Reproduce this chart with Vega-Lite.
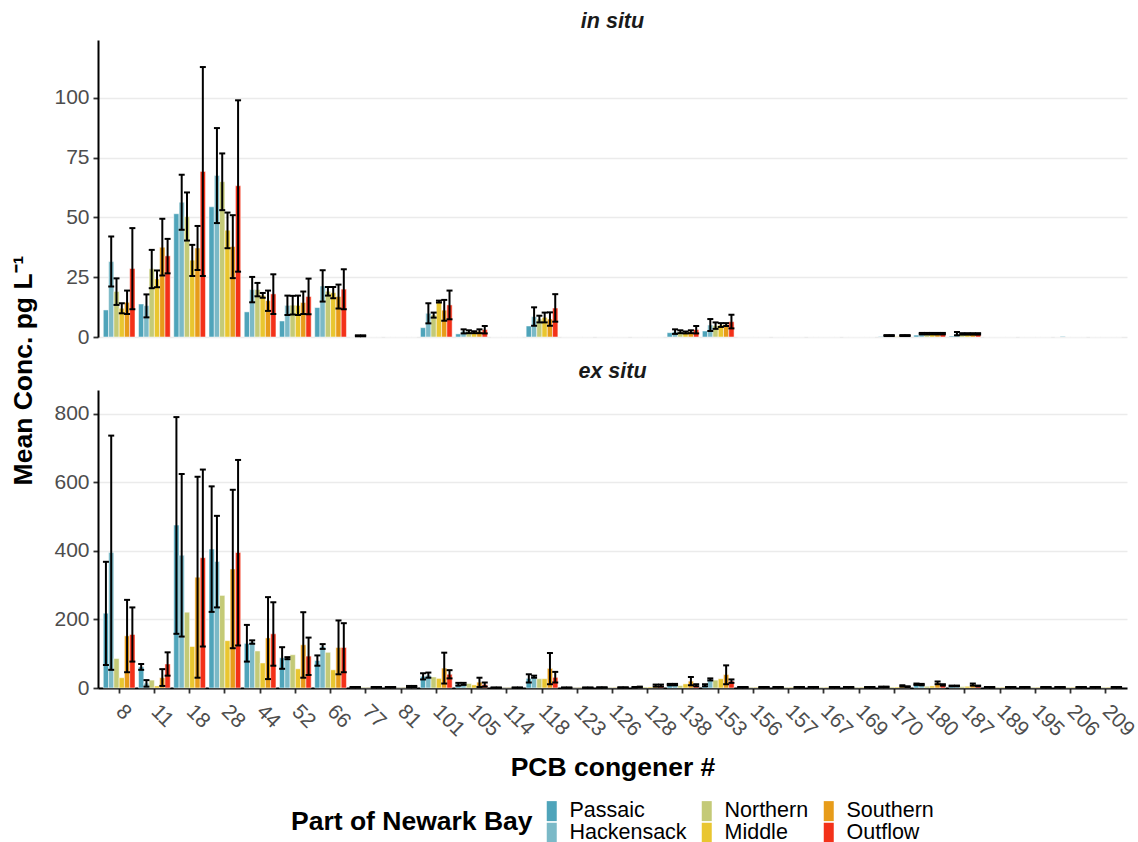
{
  "$schema": "https://vega.github.io/schema/vega-lite/v6.json",
  "padding": {"left": 10, "top": 10, "right": 10, "bottom": 0},
  "background": "white",
  "datasets": {
    "pcb": [
      {"panel":"in situ","cong":"8","region":"Passaic","mean":11.3},
      {"panel":"in situ","cong":"8","region":"Hackensack","mean":31.5,"lo":21.1,"hi":42.0},
      {"panel":"in situ","cong":"8","region":"Northern","mean":19.0,"lo":13.4,"hi":24.5},
      {"panel":"in situ","cong":"8","region":"Middle","mean":12.0,"lo":9.9,"hi":14.1},
      {"panel":"in situ","cong":"8","region":"Southern","mean":14.5,"lo":9.6,"hi":19.4},
      {"panel":"in situ","cong":"8","region":"Outflow","mean":28.6,"lo":11.6,"hi":45.5},
      {"panel":"in situ","cong":"11","region":"Passaic","mean":13.8},
      {"panel":"in situ","cong":"11","region":"Hackensack","mean":13.1,"lo":8.2,"hi":17.8},
      {"panel":"in situ","cong":"11","region":"Northern","mean":28.5,"lo":20.4,"hi":36.4},
      {"panel":"in situ","cong":"11","region":"Middle","mean":24.3,"lo":20.8,"hi":27.8},
      {"panel":"in situ","cong":"11","region":"Southern","mean":37.5,"lo":25.7,"hi":49.4},
      {"panel":"in situ","cong":"11","region":"Outflow","mean":33.9,"lo":26.6,"hi":41.0},
      {"panel":"in situ","cong":"18","region":"Passaic","mean":51.5},
      {"panel":"in situ","cong":"18","region":"Hackensack","mean":56.3,"lo":44.8,"hi":67.8},
      {"panel":"in situ","cong":"18","region":"Northern","mean":50.3,"lo":40.3,"hi":60.4},
      {"panel":"in situ","cong":"18","region":"Middle","mean":32.1,"lo":25.5,"hi":38.5},
      {"panel":"in situ","cong":"18","region":"Southern","mean":37.2,"lo":28.0,"hi":46.4},
      {"panel":"in situ","cong":"18","region":"Outflow","mean":69.2,"lo":25.5,"hi":112.8},
      {"panel":"in situ","cong":"28","region":"Passaic","mean":54.4},
      {"panel":"in situ","cong":"28","region":"Hackensack","mean":67.5,"lo":47.6,"hi":87.3},
      {"panel":"in situ","cong":"28","region":"Northern","mean":64.9,"lo":53.0,"hi":76.7},
      {"panel":"in situ","cong":"28","region":"Middle","mean":44.6,"lo":37.1,"hi":52.0},
      {"panel":"in situ","cong":"28","region":"Southern","mean":37.8,"lo":24.6,"hi":50.9},
      {"panel":"in situ","cong":"28","region":"Outflow","mean":63.2,"lo":27.3,"hi":98.9},
      {"panel":"in situ","cong":"44","region":"Passaic","mean":10.5},
      {"panel":"in situ","cong":"44","region":"Hackensack","mean":19.8,"lo":14.5,"hi":25.1},
      {"panel":"in situ","cong":"44","region":"Northern","mean":19.8,"lo":17.0,"hi":22.6},
      {"panel":"in situ","cong":"44","region":"Middle","mean":17.4,"lo":16.4,"hi":18.4},
      {"panel":"in situ","cong":"44","region":"Southern","mean":15.2,"lo":10.9,"hi":19.4},
      {"panel":"in situ","cong":"44","region":"Outflow","mean":18.0,"lo":9.6,"hi":26.2},
      {"panel":"in situ","cong":"52","region":"Passaic","mean":6.7},
      {"panel":"in situ","cong":"52","region":"Hackensack","mean":13.2,"lo":9.2,"hi":17.3},
      {"panel":"in situ","cong":"52","region":"Northern","mean":13.3,"lo":9.4,"hi":17.2},
      {"panel":"in situ","cong":"52","region":"Middle","mean":13.2,"lo":9.2,"hi":17.3},
      {"panel":"in situ","cong":"52","region":"Southern","mean":14.4,"lo":9.6,"hi":19.0},
      {"panel":"in situ","cong":"52","region":"Outflow","mean":16.9,"lo":9.5,"hi":24.4},
      {"panel":"in situ","cong":"66","region":"Passaic","mean":12.3},
      {"panel":"in situ","cong":"66","region":"Hackensack","mean":21.3,"lo":14.8,"hi":27.9},
      {"panel":"in situ","cong":"66","region":"Northern","mean":19.1,"lo":17.3,"hi":20.9},
      {"panel":"in situ","cong":"66","region":"Middle","mean":18.5,"lo":16.2,"hi":20.9},
      {"panel":"in situ","cong":"66","region":"Southern","mean":16.9,"lo":11.9,"hi":21.9},
      {"panel":"in situ","cong":"66","region":"Outflow","mean":20.0,"lo":11.6,"hi":28.3},
      {"panel":"in situ","cong":"77","region":"Passaic","mean":0},
      {"panel":"in situ","cong":"77","region":"Hackensack","mean":0.5,"lo":0.3,"hi":0.7},
      {"panel":"in situ","cong":"77","region":"Northern","mean":0.5,"lo":0.3,"hi":0.7},
      {"panel":"in situ","cong":"77","region":"Middle","mean":0},
      {"panel":"in situ","cong":"77","region":"Southern","mean":0},
      {"panel":"in situ","cong":"77","region":"Outflow","mean":0},
      {"panel":"in situ","cong":"81","region":"Passaic","mean":0},
      {"panel":"in situ","cong":"81","region":"Hackensack","mean":0},
      {"panel":"in situ","cong":"81","region":"Northern","mean":0},
      {"panel":"in situ","cong":"81","region":"Middle","mean":0},
      {"panel":"in situ","cong":"81","region":"Southern","mean":0},
      {"panel":"in situ","cong":"81","region":"Outflow","mean":0},
      {"panel":"in situ","cong":"101","region":"Passaic","mean":3.9},
      {"panel":"in situ","cong":"101","region":"Hackensack","mean":9.9,"lo":5.7,"hi":14.1},
      {"panel":"in situ","cong":"101","region":"Northern","mean":9.2,"lo":8.1,"hi":10.2},
      {"panel":"in situ","cong":"101","region":"Middle","mean":14.8,"lo":14.4,"hi":15.2},
      {"panel":"in situ","cong":"101","region":"Southern","mean":11.2,"lo":6.8,"hi":15.5},
      {"panel":"in situ","cong":"101","region":"Outflow","mean":13.4,"lo":7.4,"hi":19.4},
      {"panel":"in situ","cong":"105","region":"Passaic","mean":1.3},
      {"panel":"in situ","cong":"105","region":"Hackensack","mean":2.4,"lo":1.5,"hi":3.2},
      {"panel":"in situ","cong":"105","region":"Northern","mean":2.2,"lo":1.6,"hi":2.8},
      {"panel":"in situ","cong":"105","region":"Middle","mean":2.0,"lo":1.6,"hi":2.4},
      {"panel":"in situ","cong":"105","region":"Southern","mean":2.4,"lo":1.6,"hi":3.2},
      {"panel":"in situ","cong":"105","region":"Outflow","mean":3.1,"lo":1.5,"hi":4.6},
      {"panel":"in situ","cong":"114","region":"Passaic","mean":0},
      {"panel":"in situ","cong":"114","region":"Hackensack","mean":0},
      {"panel":"in situ","cong":"114","region":"Northern","mean":0},
      {"panel":"in situ","cong":"114","region":"Middle","mean":0},
      {"panel":"in situ","cong":"114","region":"Southern","mean":0},
      {"panel":"in situ","cong":"114","region":"Outflow","mean":0},
      {"panel":"in situ","cong":"118","region":"Passaic","mean":4.6},
      {"panel":"in situ","cong":"118","region":"Hackensack","mean":8.5,"lo":4.7,"hi":12.4},
      {"panel":"in situ","cong":"118","region":"Northern","mean":7.5,"lo":6.1,"hi":8.9},
      {"panel":"in situ","cong":"118","region":"Middle","mean":8.2,"lo":6.1,"hi":10.2},
      {"panel":"in situ","cong":"118","region":"Southern","mean":7.5,"lo":4.7,"hi":10.3},
      {"panel":"in situ","cong":"118","region":"Outflow","mean":12.1,"lo":6.4,"hi":17.9},
      {"panel":"in situ","cong":"123","region":"Passaic","mean":0},
      {"panel":"in situ","cong":"123","region":"Hackensack","mean":0},
      {"panel":"in situ","cong":"123","region":"Northern","mean":0},
      {"panel":"in situ","cong":"123","region":"Middle","mean":0},
      {"panel":"in situ","cong":"123","region":"Southern","mean":0},
      {"panel":"in situ","cong":"123","region":"Outflow","mean":0},
      {"panel":"in situ","cong":"126","region":"Passaic","mean":0},
      {"panel":"in situ","cong":"126","region":"Hackensack","mean":0},
      {"panel":"in situ","cong":"126","region":"Northern","mean":0},
      {"panel":"in situ","cong":"126","region":"Middle","mean":0},
      {"panel":"in situ","cong":"126","region":"Southern","mean":0},
      {"panel":"in situ","cong":"126","region":"Outflow","mean":0},
      {"panel":"in situ","cong":"128","region":"Passaic","mean":0},
      {"panel":"in situ","cong":"128","region":"Hackensack","mean":0},
      {"panel":"in situ","cong":"128","region":"Northern","mean":0},
      {"panel":"in situ","cong":"128","region":"Middle","mean":0},
      {"panel":"in situ","cong":"128","region":"Southern","mean":0},
      {"panel":"in situ","cong":"128","region":"Outflow","mean":0},
      {"panel":"in situ","cong":"138","region":"Passaic","mean":1.8},
      {"panel":"in situ","cong":"138","region":"Hackensack","mean":2.2,"lo":1.3,"hi":3.2},
      {"panel":"in situ","cong":"138","region":"Northern","mean":2.2,"lo":1.6,"hi":2.8},
      {"panel":"in situ","cong":"138","region":"Middle","mean":1.9,"lo":1.5,"hi":2.3},
      {"panel":"in situ","cong":"138","region":"Southern","mean":2.2,"lo":1.6,"hi":2.8},
      {"panel":"in situ","cong":"138","region":"Outflow","mean":3.1,"lo":1.5,"hi":4.6},
      {"panel":"in situ","cong":"153","region":"Passaic","mean":2.5},
      {"panel":"in situ","cong":"153","region":"Hackensack","mean":5.0,"lo":2.5,"hi":7.5},
      {"panel":"in situ","cong":"153","region":"Northern","mean":4.7,"lo":3.4,"hi":6.1},
      {"panel":"in situ","cong":"153","region":"Middle","mean":5.0,"lo":4.2,"hi":5.8},
      {"panel":"in situ","cong":"153","region":"Southern","mean":5.2,"lo":4.6,"hi":5.8},
      {"panel":"in situ","cong":"153","region":"Outflow","mean":6.4,"lo":3.6,"hi":9.3},
      {"panel":"in situ","cong":"156","region":"Passaic","mean":0},
      {"panel":"in situ","cong":"156","region":"Hackensack","mean":0},
      {"panel":"in situ","cong":"156","region":"Northern","mean":0},
      {"panel":"in situ","cong":"156","region":"Middle","mean":0},
      {"panel":"in situ","cong":"156","region":"Southern","mean":0},
      {"panel":"in situ","cong":"156","region":"Outflow","mean":0},
      {"panel":"in situ","cong":"157","region":"Passaic","mean":0},
      {"panel":"in situ","cong":"157","region":"Hackensack","mean":0},
      {"panel":"in situ","cong":"157","region":"Northern","mean":0},
      {"panel":"in situ","cong":"157","region":"Middle","mean":0},
      {"panel":"in situ","cong":"157","region":"Southern","mean":0},
      {"panel":"in situ","cong":"157","region":"Outflow","mean":0},
      {"panel":"in situ","cong":"167","region":"Passaic","mean":0},
      {"panel":"in situ","cong":"167","region":"Hackensack","mean":0},
      {"panel":"in situ","cong":"167","region":"Northern","mean":0},
      {"panel":"in situ","cong":"167","region":"Middle","mean":0},
      {"panel":"in situ","cong":"167","region":"Southern","mean":0},
      {"panel":"in situ","cong":"167","region":"Outflow","mean":0},
      {"panel":"in situ","cong":"169","region":"Passaic","mean":0},
      {"panel":"in situ","cong":"169","region":"Hackensack","mean":0},
      {"panel":"in situ","cong":"169","region":"Northern","mean":0},
      {"panel":"in situ","cong":"169","region":"Middle","mean":0},
      {"panel":"in situ","cong":"169","region":"Southern","mean":0},
      {"panel":"in situ","cong":"169","region":"Outflow","mean":0},
      {"panel":"in situ","cong":"170","region":"Passaic","mean":0.2},
      {"panel":"in situ","cong":"170","region":"Hackensack","mean":0.6,"lo":0.4,"hi":0.8},
      {"panel":"in situ","cong":"170","region":"Northern","mean":0.6,"lo":0.4,"hi":0.8},
      {"panel":"in situ","cong":"170","region":"Middle","mean":0.2},
      {"panel":"in situ","cong":"170","region":"Southern","mean":0.6,"lo":0.4,"hi":0.8},
      {"panel":"in situ","cong":"170","region":"Outflow","mean":0.6,"lo":0.4,"hi":0.8},
      {"panel":"in situ","cong":"180","region":"Passaic","mean":0.8},
      {"panel":"in situ","cong":"180","region":"Hackensack","mean":1.4,"lo":1.1,"hi":1.7},
      {"panel":"in situ","cong":"180","region":"Northern","mean":1.4,"lo":1.1,"hi":1.7},
      {"panel":"in situ","cong":"180","region":"Middle","mean":1.4,"lo":1.1,"hi":1.7},
      {"panel":"in situ","cong":"180","region":"Southern","mean":1.4,"lo":1.1,"hi":1.7},
      {"panel":"in situ","cong":"180","region":"Outflow","mean":1.4,"lo":1.1,"hi":1.7},
      {"panel":"in situ","cong":"187","region":"Passaic","mean":0.4},
      {"panel":"in situ","cong":"187","region":"Hackensack","mean":1.4,"lo":0.7,"hi":2.1},
      {"panel":"in situ","cong":"187","region":"Northern","mean":1.3,"lo":1.0,"hi":1.6},
      {"panel":"in situ","cong":"187","region":"Middle","mean":1.3,"lo":1.0,"hi":1.6},
      {"panel":"in situ","cong":"187","region":"Southern","mean":1.3,"lo":1.0,"hi":1.6},
      {"panel":"in situ","cong":"187","region":"Outflow","mean":1.3,"lo":1.0,"hi":1.6},
      {"panel":"in situ","cong":"189","region":"Passaic","mean":0},
      {"panel":"in situ","cong":"189","region":"Hackensack","mean":0},
      {"panel":"in situ","cong":"189","region":"Northern","mean":0},
      {"panel":"in situ","cong":"189","region":"Middle","mean":0},
      {"panel":"in situ","cong":"189","region":"Southern","mean":0},
      {"panel":"in situ","cong":"189","region":"Outflow","mean":0},
      {"panel":"in situ","cong":"195","region":"Passaic","mean":0},
      {"panel":"in situ","cong":"195","region":"Hackensack","mean":0},
      {"panel":"in situ","cong":"195","region":"Northern","mean":0},
      {"panel":"in situ","cong":"195","region":"Middle","mean":0},
      {"panel":"in situ","cong":"195","region":"Southern","mean":0},
      {"panel":"in situ","cong":"195","region":"Outflow","mean":0},
      {"panel":"in situ","cong":"206","region":"Passaic","mean":0},
      {"panel":"in situ","cong":"206","region":"Hackensack","mean":0.3},
      {"panel":"in situ","cong":"206","region":"Northern","mean":0},
      {"panel":"in situ","cong":"206","region":"Middle","mean":0},
      {"panel":"in situ","cong":"206","region":"Southern","mean":0},
      {"panel":"in situ","cong":"206","region":"Outflow","mean":0},
      {"panel":"in situ","cong":"209","region":"Passaic","mean":0},
      {"panel":"in situ","cong":"209","region":"Hackensack","mean":0},
      {"panel":"in situ","cong":"209","region":"Northern","mean":0},
      {"panel":"in situ","cong":"209","region":"Middle","mean":0},
      {"panel":"in situ","cong":"209","region":"Southern","mean":0},
      {"panel":"in situ","cong":"209","region":"Outflow","mean":0},

      {"panel":"ex situ","cong":"8","region":"Passaic","mean":218,"lo":67,"hi":368},
      {"panel":"ex situ","cong":"8","region":"Hackensack","mean":395,"lo":53,"hi":736},
      {"panel":"ex situ","cong":"8","region":"Northern","mean":86},
      {"panel":"ex situ","cong":"8","region":"Middle","mean":30},
      {"panel":"ex situ","cong":"8","region":"Southern","mean":152,"lo":46,"hi":257},
      {"panel":"ex situ","cong":"8","region":"Outflow","mean":156,"lo":77,"hi":235},
      {"panel":"ex situ","cong":"11","region":"Passaic","mean":62,"lo":53,"hi":70},
      {"panel":"ex situ","cong":"11","region":"Hackensack","mean":14,"lo":4,"hi":23},
      {"panel":"ex situ","cong":"11","region":"Northern","mean":23},
      {"panel":"ex situ","cong":"11","region":"Middle","mean":6},
      {"panel":"ex situ","cong":"11","region":"Southern","mean":30,"lo":6,"hi":55},
      {"panel":"ex situ","cong":"11","region":"Outflow","mean":70,"lo":36,"hi":104},
      {"panel":"ex situ","cong":"18","region":"Passaic","mean":475,"lo":158,"hi":790},
      {"panel":"ex situ","cong":"18","region":"Hackensack","mean":387,"lo":150,"hi":624},
      {"panel":"ex situ","cong":"18","region":"Northern","mean":221},
      {"panel":"ex situ","cong":"18","region":"Middle","mean":121},
      {"panel":"ex situ","cong":"18","region":"Southern","mean":323,"lo":30,"hi":616},
      {"panel":"ex situ","cong":"18","region":"Outflow","mean":380,"lo":121,"hi":637},
      {"panel":"ex situ","cong":"28","region":"Passaic","mean":405,"lo":222,"hi":588},
      {"panel":"ex situ","cong":"28","region":"Hackensack","mean":369,"lo":235,"hi":502},
      {"panel":"ex situ","cong":"28","region":"Northern","mean":270},
      {"panel":"ex situ","cong":"28","region":"Middle","mean":138},
      {"panel":"ex situ","cong":"28","region":"Southern","mean":347,"lo":116,"hi":578},
      {"panel":"ex situ","cong":"28","region":"Outflow","mean":395,"lo":124,"hi":665},
      {"panel":"ex situ","cong":"44","region":"Passaic","mean":130,"lo":77,"hi":184},
      {"panel":"ex situ","cong":"44","region":"Hackensack","mean":134,"lo":129,"hi":139},
      {"panel":"ex situ","cong":"44","region":"Northern","mean":108},
      {"panel":"ex situ","cong":"44","region":"Middle","mean":73},
      {"panel":"ex situ","cong":"44","region":"Southern","mean":146,"lo":26,"hi":265},
      {"panel":"ex situ","cong":"44","region":"Outflow","mean":158,"lo":65,"hi":250},
      {"panel":"ex situ","cong":"52","region":"Passaic","mean":88,"lo":56,"hi":119},
      {"panel":"ex situ","cong":"52","region":"Hackensack","mean":87,"lo":84,"hi":90},
      {"panel":"ex situ","cong":"52","region":"Northern","mean":97},
      {"panel":"ex situ","cong":"52","region":"Middle","mean":56},
      {"panel":"ex situ","cong":"52","region":"Southern","mean":126,"lo":30,"hi":221},
      {"panel":"ex situ","cong":"52","region":"Outflow","mean":93,"lo":38,"hi":147},
      {"panel":"ex situ","cong":"66","region":"Passaic","mean":80,"lo":65,"hi":95},
      {"panel":"ex situ","cong":"66","region":"Hackensack","mean":121,"lo":114,"hi":128},
      {"panel":"ex situ","cong":"66","region":"Northern","mean":104},
      {"panel":"ex situ","cong":"66","region":"Middle","mean":53},
      {"panel":"ex situ","cong":"66","region":"Southern","mean":118,"lo":40,"hi":197},
      {"panel":"ex situ","cong":"66","region":"Outflow","mean":118,"lo":46,"hi":189},
      {"panel":"ex situ","cong":"77","region":"Passaic","mean":2,"lo":1,"hi":3},
      {"panel":"ex situ","cong":"77","region":"Hackensack","mean":2,"lo":1,"hi":3},
      {"panel":"ex situ","cong":"77","region":"Northern","mean":2},
      {"panel":"ex situ","cong":"77","region":"Middle","mean":1},
      {"panel":"ex situ","cong":"77","region":"Southern","mean":2,"lo":1,"hi":3},
      {"panel":"ex situ","cong":"77","region":"Outflow","mean":2,"lo":1,"hi":3},
      {"panel":"ex situ","cong":"81","region":"Passaic","mean":2,"lo":1,"hi":3},
      {"panel":"ex situ","cong":"81","region":"Hackensack","mean":2,"lo":1,"hi":3},
      {"panel":"ex situ","cong":"81","region":"Northern","mean":1},
      {"panel":"ex situ","cong":"81","region":"Middle","mean":1},
      {"panel":"ex situ","cong":"81","region":"Southern","mean":4,"lo":2,"hi":6},
      {"panel":"ex situ","cong":"81","region":"Outflow","mean":4,"lo":2,"hi":6},
      {"panel":"ex situ","cong":"101","region":"Passaic","mean":34,"lo":25,"hi":43},
      {"panel":"ex situ","cong":"101","region":"Hackensack","mean":37,"lo":30,"hi":45},
      {"panel":"ex situ","cong":"101","region":"Northern","mean":32},
      {"panel":"ex situ","cong":"101","region":"Middle","mean":28},
      {"panel":"ex situ","cong":"101","region":"Southern","mean":58,"lo":13,"hi":103},
      {"panel":"ex situ","cong":"101","region":"Outflow","mean":40,"lo":28,"hi":52},
      {"panel":"ex situ","cong":"105","region":"Passaic","mean":11,"lo":7,"hi":15},
      {"panel":"ex situ","cong":"105","region":"Hackensack","mean":12,"lo":9,"hi":15},
      {"panel":"ex situ","cong":"105","region":"Northern","mean":13},
      {"panel":"ex situ","cong":"105","region":"Middle","mean":9},
      {"panel":"ex situ","cong":"105","region":"Southern","mean":17,"lo":3,"hi":30},
      {"panel":"ex situ","cong":"105","region":"Outflow","mean":10,"lo":4,"hi":16},
      {"panel":"ex situ","cong":"114","region":"Passaic","mean":1,"lo":0.5,"hi":1.5},
      {"panel":"ex situ","cong":"114","region":"Hackensack","mean":1,"lo":0.5,"hi":1.5},
      {"panel":"ex situ","cong":"114","region":"Northern","mean":1},
      {"panel":"ex situ","cong":"114","region":"Middle","mean":1},
      {"panel":"ex situ","cong":"114","region":"Southern","mean":1,"lo":0.5,"hi":1.5},
      {"panel":"ex situ","cong":"114","region":"Outflow","mean":1,"lo":0.5,"hi":1.5},
      {"panel":"ex situ","cong":"118","region":"Passaic","mean":28,"lo":16,"hi":40},
      {"panel":"ex situ","cong":"118","region":"Hackensack","mean":33,"lo":30,"hi":36},
      {"panel":"ex situ","cong":"118","region":"Northern","mean":27},
      {"panel":"ex situ","cong":"118","region":"Middle","mean":27},
      {"panel":"ex situ","cong":"118","region":"Southern","mean":57,"lo":11,"hi":102},
      {"panel":"ex situ","cong":"118","region":"Outflow","mean":31,"lo":16,"hi":47},
      {"panel":"ex situ","cong":"123","region":"Passaic","mean":1,"lo":0.5,"hi":1.5},
      {"panel":"ex situ","cong":"123","region":"Hackensack","mean":1,"lo":0.5,"hi":1.5},
      {"panel":"ex situ","cong":"123","region":"Northern","mean":1},
      {"panel":"ex situ","cong":"123","region":"Middle","mean":1},
      {"panel":"ex situ","cong":"123","region":"Southern","mean":1,"lo":0.5,"hi":1.5},
      {"panel":"ex situ","cong":"123","region":"Outflow","mean":1,"lo":0.5,"hi":1.5},
      {"panel":"ex situ","cong":"126","region":"Passaic","mean":1.5,"lo":1,"hi":2},
      {"panel":"ex situ","cong":"126","region":"Hackensack","mean":1.5,"lo":1,"hi":2},
      {"panel":"ex situ","cong":"126","region":"Northern","mean":1.5},
      {"panel":"ex situ","cong":"126","region":"Middle","mean":1.5},
      {"panel":"ex situ","cong":"126","region":"Southern","mean":1.5,"lo":1,"hi":2},
      {"panel":"ex situ","cong":"126","region":"Outflow","mean":1.5,"lo":1,"hi":2},
      {"panel":"ex situ","cong":"128","region":"Passaic","mean":2,"lo":1,"hi":3},
      {"panel":"ex situ","cong":"128","region":"Hackensack","mean":3,"lo":2,"hi":4},
      {"panel":"ex situ","cong":"128","region":"Northern","mean":3},
      {"panel":"ex situ","cong":"128","region":"Middle","mean":3},
      {"panel":"ex situ","cong":"128","region":"Southern","mean":7,"lo":4,"hi":10},
      {"panel":"ex situ","cong":"128","region":"Outflow","mean":7,"lo":4,"hi":10},
      {"panel":"ex situ","cong":"138","region":"Passaic","mean":10,"lo":8,"hi":12},
      {"panel":"ex situ","cong":"138","region":"Hackensack","mean":10,"lo":8,"hi":12},
      {"panel":"ex situ","cong":"138","region":"Northern","mean":7},
      {"panel":"ex situ","cong":"138","region":"Middle","mean":12},
      {"panel":"ex situ","cong":"138","region":"Southern","mean":20,"lo":8,"hi":32},
      {"panel":"ex situ","cong":"138","region":"Outflow","mean":8,"lo":5,"hi":11},
      {"panel":"ex situ","cong":"153","region":"Passaic","mean":8,"lo":5,"hi":11},
      {"panel":"ex situ","cong":"153","region":"Hackensack","mean":25,"lo":22,"hi":28},
      {"panel":"ex situ","cong":"153","region":"Northern","mean":23},
      {"panel":"ex situ","cong":"153","region":"Middle","mean":27},
      {"panel":"ex situ","cong":"153","region":"Southern","mean":39,"lo":11,"hi":66},
      {"panel":"ex situ","cong":"153","region":"Outflow","mean":20,"lo":15,"hi":25},
      {"panel":"ex situ","cong":"156","region":"Passaic","mean":2,"lo":1,"hi":3},
      {"panel":"ex situ","cong":"156","region":"Hackensack","mean":2,"lo":1,"hi":3},
      {"panel":"ex situ","cong":"156","region":"Northern","mean":2},
      {"panel":"ex situ","cong":"156","region":"Middle","mean":2},
      {"panel":"ex situ","cong":"156","region":"Southern","mean":2,"lo":1,"hi":3},
      {"panel":"ex situ","cong":"156","region":"Outflow","mean":2,"lo":1,"hi":3},
      {"panel":"ex situ","cong":"157","region":"Passaic","mean":2,"lo":1,"hi":3},
      {"panel":"ex situ","cong":"157","region":"Hackensack","mean":2,"lo":1,"hi":3},
      {"panel":"ex situ","cong":"157","region":"Northern","mean":2},
      {"panel":"ex situ","cong":"157","region":"Middle","mean":2},
      {"panel":"ex situ","cong":"157","region":"Southern","mean":2,"lo":1,"hi":3},
      {"panel":"ex situ","cong":"157","region":"Outflow","mean":2,"lo":1,"hi":3},
      {"panel":"ex situ","cong":"167","region":"Passaic","mean":2,"lo":1,"hi":3},
      {"panel":"ex situ","cong":"167","region":"Hackensack","mean":2,"lo":1,"hi":3},
      {"panel":"ex situ","cong":"167","region":"Northern","mean":2},
      {"panel":"ex situ","cong":"167","region":"Middle","mean":2},
      {"panel":"ex situ","cong":"167","region":"Southern","mean":2,"lo":1,"hi":3},
      {"panel":"ex situ","cong":"167","region":"Outflow","mean":2,"lo":1,"hi":3},
      {"panel":"ex situ","cong":"169","region":"Passaic","mean":2,"lo":1,"hi":3},
      {"panel":"ex situ","cong":"169","region":"Hackensack","mean":2,"lo":1,"hi":3},
      {"panel":"ex situ","cong":"169","region":"Northern","mean":2},
      {"panel":"ex situ","cong":"169","region":"Middle","mean":2},
      {"panel":"ex situ","cong":"169","region":"Southern","mean":2,"lo":1,"hi":3},
      {"panel":"ex situ","cong":"169","region":"Outflow","mean":2,"lo":1,"hi":3},
      {"panel":"ex situ","cong":"170","region":"Passaic","mean":3,"lo":2,"hi":4},
      {"panel":"ex situ","cong":"170","region":"Hackensack","mean":3,"lo":2,"hi":4},
      {"panel":"ex situ","cong":"170","region":"Northern","mean":3},
      {"panel":"ex situ","cong":"170","region":"Middle","mean":3},
      {"panel":"ex situ","cong":"170","region":"Southern","mean":6,"lo":4,"hi":8},
      {"panel":"ex situ","cong":"170","region":"Outflow","mean":4,"lo":3,"hi":5},
      {"panel":"ex situ","cong":"180","region":"Passaic","mean":11,"lo":9,"hi":13},
      {"panel":"ex situ","cong":"180","region":"Hackensack","mean":10,"lo":8,"hi":12},
      {"panel":"ex situ","cong":"180","region":"Northern","mean":5},
      {"panel":"ex situ","cong":"180","region":"Middle","mean":6},
      {"panel":"ex situ","cong":"180","region":"Southern","mean":15,"lo":11,"hi":19},
      {"panel":"ex situ","cong":"180","region":"Outflow","mean":9,"lo":7,"hi":11},
      {"panel":"ex situ","cong":"187","region":"Passaic","mean":6,"lo":5,"hi":7},
      {"panel":"ex situ","cong":"187","region":"Hackensack","mean":6,"lo":5,"hi":7},
      {"panel":"ex situ","cong":"187","region":"Northern","mean":4},
      {"panel":"ex situ","cong":"187","region":"Middle","mean":5},
      {"panel":"ex situ","cong":"187","region":"Southern","mean":10,"lo":7,"hi":13},
      {"panel":"ex situ","cong":"187","region":"Outflow","mean":6,"lo":5,"hi":7},
      {"panel":"ex situ","cong":"189","region":"Passaic","mean":2,"lo":1,"hi":3},
      {"panel":"ex situ","cong":"189","region":"Hackensack","mean":2,"lo":1,"hi":3},
      {"panel":"ex situ","cong":"189","region":"Northern","mean":2},
      {"panel":"ex situ","cong":"189","region":"Middle","mean":2},
      {"panel":"ex situ","cong":"189","region":"Southern","mean":2,"lo":1,"hi":3},
      {"panel":"ex situ","cong":"189","region":"Outflow","mean":2,"lo":1,"hi":3},
      {"panel":"ex situ","cong":"195","region":"Passaic","mean":2,"lo":1,"hi":3},
      {"panel":"ex situ","cong":"195","region":"Hackensack","mean":2,"lo":1,"hi":3},
      {"panel":"ex situ","cong":"195","region":"Northern","mean":2},
      {"panel":"ex situ","cong":"195","region":"Middle","mean":2},
      {"panel":"ex situ","cong":"195","region":"Southern","mean":2,"lo":1,"hi":3},
      {"panel":"ex situ","cong":"195","region":"Outflow","mean":2,"lo":1,"hi":3},
      {"panel":"ex situ","cong":"206","region":"Passaic","mean":2,"lo":1,"hi":3},
      {"panel":"ex situ","cong":"206","region":"Hackensack","mean":2,"lo":1,"hi":3},
      {"panel":"ex situ","cong":"206","region":"Northern","mean":2},
      {"panel":"ex situ","cong":"206","region":"Middle","mean":2},
      {"panel":"ex situ","cong":"206","region":"Southern","mean":2,"lo":1,"hi":3},
      {"panel":"ex situ","cong":"206","region":"Outflow","mean":2,"lo":1,"hi":3},
      {"panel":"ex situ","cong":"209","region":"Passaic","mean":2,"lo":1,"hi":3},
      {"panel":"ex situ","cong":"209","region":"Hackensack","mean":2,"lo":1,"hi":3},
      {"panel":"ex situ","cong":"209","region":"Northern","mean":2},
      {"panel":"ex situ","cong":"209","region":"Middle","mean":2},
      {"panel":"ex situ","cong":"209","region":"Southern","mean":2,"lo":1,"hi":3},
      {"panel":"ex situ","cong":"209","region":"Outflow","mean":2,"lo":1,"hi":3}
    ]
  },
  "data": {"name": "pcb"},
  "bounds": "flush",
  "spacing": 53,
  "config": {
    "font": "Liberation Sans",
    "view": {"stroke": null},
    "axis": {
      "labelFont": "Liberation Sans",
      "labelFontSize": 21,
      "labelColor": "#4D4D4D",
      "titleFont": "Liberation Sans",
      "titleFontSize": 26.5,
      "titleFontWeight": "bold",
      "titleColor": "#000000",
      "gridColor": "#EBEBEB",
      "gridWidth": 1.6,
      "domainColor": "#000000",
      "domainWidth": 2,
      "tickColor": "#333333",
      "tickWidth": 1.8,
      "tickSize": 5,
      "labelPadding": 4
    },
    "legend": {
      "layout": {"bottom": {"anchor": "middle"}}
    },
    "title": {
      "font": "Liberation Sans",
      "fontSize": 21.5,
      "fontWeight": "bold",
      "fontStyle": "italic",
      "color": "#1A1A1A",
      "anchor": "middle",
      "offset": 8
    }
  },
  "vconcat": [
    {
      "width": 1029,
      "height": 297,
      "title": "in situ",
      "transform": [{"filter": "datum.panel === 'in situ'"}],
      "encoding": {
        "x": {
          "field": "cong", "type": "nominal",
          "sort": ["8","11","18","28","44","52","66","77","81","101","105","114","118","123","126","128","138","153","156","157","167","169","170","180","187","189","195","206","209"],
          "scale": {"paddingInner": 0.1, "paddingOuter": 0.15},
          "axis": null
        },
        "xOffset": {
          "field": "region", "type": "nominal",
          "sort": ["Passaic","Hackensack","Northern","Middle","Southern","Outflow"],
          "scale": {"paddingInner": 0, "paddingOuter": 0}
        }
      },
      "layer": [
        {
          "mark": {"type": "bar", "stroke": "white", "strokeWidth": 0.5},
          "encoding": {
            "y": {
              "field": "mean", "type": "quantitative",
              "scale": {"domain": [0, 124.1], "nice": false},
              "axis": {"values": [0,25,50,75,100], "title": "Mean Conc. pg L⁻¹", "titleY": 330, "titlePadding": 16}
            },
            "color": {
              "field": "region", "type": "nominal",
              "scale": {
                "domain": ["Passaic","Northern","Southern","Hackensack","Middle","Outflow"],
                "range": ["#4FA4BA","#C4CA77","#E79C1A","#7BB9C7","#E9C630","#F33119"]
              },
              "legend": {
                "title": "Part of Newark Bay",
                "orient": "bottom",
                "direction": "horizontal",
                "columns": 3,
                "titleOrient": "left",
                "titleFontSize": 26.5,
                "titleFontWeight": "bold",
                "titleColor": "#000000",
                "titleLimit": 400,
                "titlePadding": 8,
                "titleBaseline": "middle",
                "labelFontSize": 21.5,
                "labelColor": "#000000",
                "labelLimit": 300,
                "symbolType": "M-0.5,-1H0.5V1H-0.5Z",
                "symbolSize": 400,
                "symbolStrokeWidth": 0,
                "symbolOpacity": 1,
                "labelOffset": 7,
                "columnPadding": 9,
                "rowPadding": -2,
                "offset": 18
              }
            }
          }
        },
        {
          "transform": [{"filter": "isValid(datum.lo)"}],
          "mark": {"type": "rule", "color": "black", "strokeWidth": 2},
          "encoding": {
            "y": {"field": "lo", "type": "quantitative", "axis": {"values": [0,25,50,75,100], "title": "Mean Conc. pg L⁻¹", "titleY": 330, "titlePadding": 16}},
            "y2": {"field": "hi"}
          }
        },
        {
          "transform": [{"filter": "isValid(datum.lo)"}],
          "mark": {"type": "tick", "color": "black", "thickness": 2, "size": 6, "opacity": 1},
          "encoding": {
            "y": {"field": "lo", "type": "quantitative", "axis": {"values": [0,25,50,75,100], "title": "Mean Conc. pg L⁻¹", "titleY": 330, "titlePadding": 16}}
          }
        },
        {
          "transform": [{"filter": "isValid(datum.lo)"}],
          "mark": {"type": "tick", "color": "black", "thickness": 2, "size": 6, "opacity": 1},
          "encoding": {
            "y": {"field": "hi", "type": "quantitative", "axis": {"values": [0,25,50,75,100], "title": "Mean Conc. pg L⁻¹", "titleY": 330, "titlePadding": 16}}
          }
        }
      ]
    },
    {
      "width": 1029,
      "height": 298,
      "title": "ex situ",
      "transform": [{"filter": "datum.panel === 'ex situ'"}],
      "encoding": {
        "x": {
          "field": "cong", "type": "nominal",
          "sort": ["8","11","18","28","44","52","66","77","81","101","105","114","118","123","126","128","138","153","156","157","167","169","170","180","187","189","195","206","209"],
          "scale": {"paddingInner": 0.1, "paddingOuter": 0.15},
          "axis": {
            "title": "PCB congener #",
            "labelAngle": 45,
            "labelAlign": "left",
            "labelBaseline": "middle",
            "labelPadding": 15,
            "labelOverlap": false,
            "labelFlush": false,
            "titlePadding": 15,
            "grid": false
          }
        },
        "xOffset": {
          "field": "region", "type": "nominal",
          "sort": ["Passaic","Hackensack","Northern","Middle","Southern","Outflow"],
          "scale": {"paddingInner": 0, "paddingOuter": 0}
        }
      },
      "layer": [
        {
          "mark": {"type": "bar", "stroke": "white", "strokeWidth": 0.5},
          "encoding": {
            "y": {
              "field": "mean", "type": "quantitative",
              "scale": {"domain": [0, 869], "nice": false},
              "axis": {"values": [0,200,400,600,800], "title": null}
            },
            "color": {"field": "region", "type": "nominal"}
          }
        },
        {
          "transform": [{"filter": "isValid(datum.lo)"}],
          "mark": {"type": "rule", "color": "black", "strokeWidth": 2},
          "encoding": {
            "y": {"field": "lo", "type": "quantitative", "axis": {"values": [0,200,400,600,800], "title": null}},
            "y2": {"field": "hi"}
          }
        },
        {
          "transform": [{"filter": "isValid(datum.lo)"}],
          "mark": {"type": "tick", "color": "black", "thickness": 2, "size": 6, "opacity": 1},
          "encoding": {
            "y": {"field": "lo", "type": "quantitative", "axis": {"values": [0,200,400,600,800], "title": null}}
          }
        },
        {
          "transform": [{"filter": "isValid(datum.lo)"}],
          "mark": {"type": "tick", "color": "black", "thickness": 2, "size": 6, "opacity": 1},
          "encoding": {
            "y": {"field": "hi", "type": "quantitative", "axis": {"values": [0,200,400,600,800], "title": null}}
          }
        }
      ]
    }
  ]
}
